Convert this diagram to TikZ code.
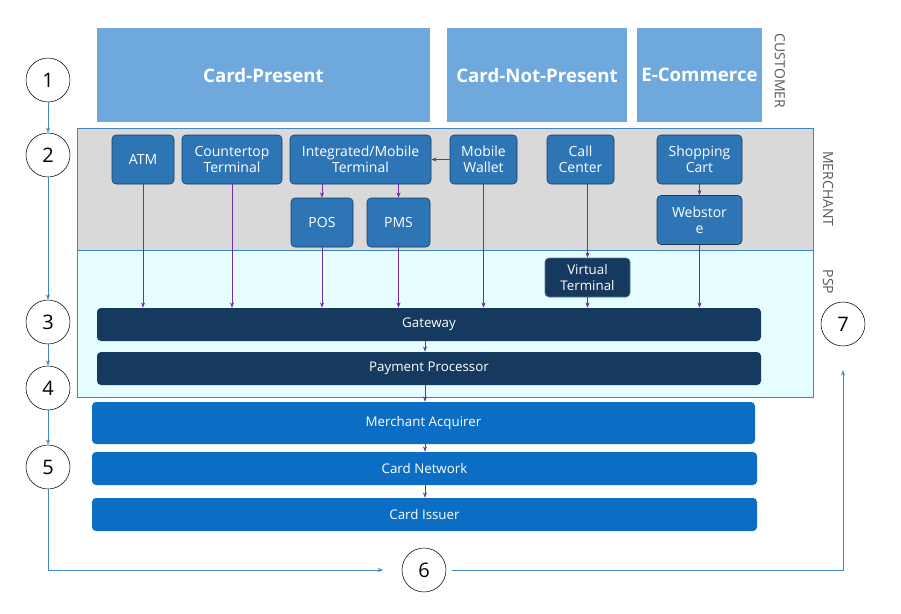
\documentclass[tikz,border=0pt]{standalone}
\usepackage{fontspec}
\setmainfont{Open Sans}
\usetikzlibrary{arrows.meta,positioning}
\definecolor{custblue}{HTML}{6FA8DC}
\definecolor{merchblue}{HTML}{2E75B6}
\definecolor{navy}{HTML}{163A5F}
\definecolor{bankblue}{HTML}{0B6EC4}
\definecolor{steel}{HTML}{3E86C6}
\definecolor{flow}{HTML}{7030A0}
\tikzset{
    %Define standard arrow tip
    >={Stealth[length=4pt,width=3pt]},
    %Define style for boxes
    cust/.style={
           rectangle,
           fill=custblue,
           text=white, font=\fontsize{14}{16}\selectfont\bfseries},
    box/.style={
           rectangle,
           rounded corners=3pt,
           fill=merchblue, draw=navy,
           text=white, align=center,
           font=\fontsize{10.5}{12}\selectfont,
           minimum height=36.75pt},
    bar/.style={
           rectangle,
           rounded corners=3pt,
           fill=navy,
           text=white,
           font=\fontsize{10}{12}\selectfont,
           minimum height=24.75pt},
    bank/.style={
           bar, fill=bankblue},
    band/.style={
           rectangle, draw=steel, thin},
    side/.style={
           rotate=-90, text=black!65,
           font=\fontsize{10.5}{12}\selectfont},
    stepnum/.style={
           circle, draw=black, thin,
           minimum size=33pt,
           font=\fontsize{15}{16}\selectfont},
    % Define arrow styles
    feed/.style={
           ->,
           flow, thin},
    stage/.style={
           ->,
           steel, thin}
}
\begin{document}
\begin{tikzpicture}[x=0.75pt,y=-0.75pt]
 \useasboundingbox (0,0) rectangle (901,614);
 %bands
    \draw[band, fill=black!15] (77,128) rectangle (813,250);
    \draw[band, fill=blue!8!cyan!10] (77,250) rectangle (813,397);
 %customer
    \node[cust, minimum width=249.75pt, minimum height=70.5pt] (cp) at (263.5,75) {Card-Present};
    \node[cust, minimum width=135pt, minimum height=70.5pt] (cnp) at (537,75) {Card-Not-Present};
    \node[cust, minimum width=93.75pt, minimum height=70.5pt] (ec) at (699.5,75) {E-Commerce};
    \node[side] (lcust) at (780,71) {CUSTOMER};
    \node[side] (lmer) at (828,189) {MERCHANT};
    \node[side] (lpsp) at (828,282) {PSP};
 %merchant
    \node[box, minimum width=46.5pt] (atm) at (143,159.5) {ATM};
    \node[box, minimum width=75pt] (ct) at (232,159.5) {Countertop\\Terminal};
    \node[box, minimum width=105.75pt] (imt) at (360.5,159.5) {Integrated/Mobile\\Terminal};
    \node[box, minimum width=50.25pt] (mw) at (483.5,159.5) {Mobile\\Wallet};
    \node[box, minimum width=50.25pt] (cc) at (580.5,159.5) {Call\\Center};
    \node[box, minimum width=63.75pt] (sc) at (699.5,159.5) {Shopping\\Cart};
    \node[box, minimum width=46.5pt] (pos) at (322,222.5) {POS};
    \node[box, minimum width=47.25pt] (pms) at (398.5,222.5) {PMS};
    \node[box, minimum width=63.75pt] (ws) at (699.5,220) {Webstor\\e};
    \node[bar, fill=navy, draw=navy!70, align=center, minimum width=63.75pt, minimum height=29.25pt] (vt) at (587.5,277.5) {Virtual\\Terminal};
 %psp and banks
    \node[bar, minimum width=498pt] (gw) at (429,324.5) {Gateway};
    \node[bar, minimum width=498pt] (pp) at (429,368.5) {Payment Processor};
    \node[bank, minimum width=497.25pt, minimum height=31.5pt] (ma) at (423.5,423) {Merchant Acquirer};
    \node[bank, minimum width=498.75pt] (cn) at (424.5,468.5) {Card Network};
    \node[bank, minimum width=498.75pt] (ci) at (424.5,514.5) {Card Issuer};
 %steps
    \node[stepnum] (s1) at (48,80) {1};
    \node[stepnum] (s2) at (48,155) {2};
    \node[stepnum] (s3) at (48,322) {3};
    \node[stepnum] (s4) at (48,388) {4};
    \node[stepnum] (s5) at (48,467) {5};
    \node[stepnum] (s6) at (424,570) {6};
    \node[stepnum] (s7) at (843,324) {7};
 %edges
    \draw[feed] (atm.south) -- (atm.south |- gw.north);
    \draw[feed] (ct.south) -- (ct.south |- gw.north);
    \draw[feed] (pos.south) -- (pos.south |- gw.north);
    \draw[feed] (pms.south) -- (pms.south |- gw.north);
    \draw[feed] (mw.south) -- (mw.south |- gw.north);
    \draw[feed] (vt.south) -- (vt.south |- gw.north);
    \draw[feed] (ws.south) -- (ws.south |- gw.north);
    \draw[feed] (imt.south -| pos) -- (pos.north);
    \draw[feed] (imt.south -| pms) -- (pms.north);
    \draw[feed] (mw.west) -- (imt.east);
    \draw[feed] (cc.south -| vt) -- (vt.north);
    \draw[feed] (sc) -- (ws);
    \draw[feed] (gw.south -| 425,0) -- (pp.north -| 425,0);
    \draw[feed] (pp.south -| 425,0) -- (ma.north -| 425,0);
    \draw[feed] (ma.south -| 425,0) -- (cn.north -| 425,0);
    \draw[feed] (cn.south -| 425,0) -- (ci.north -| 425,0);
    \draw[stage] (s1) -- (s2);
    \draw[stage] (s2) -- (s3);
    \draw[stage] (s3) -- (s4);
    \draw[stage] (s4) -- (s5);
    \draw[stage] (s5) |- ([xshift=-14pt]s6.west);
    \draw[stage] ([xshift=4pt]s6.east) -| ([yshift=-18pt]s7.south);
  \end{tikzpicture}
\end{document}
